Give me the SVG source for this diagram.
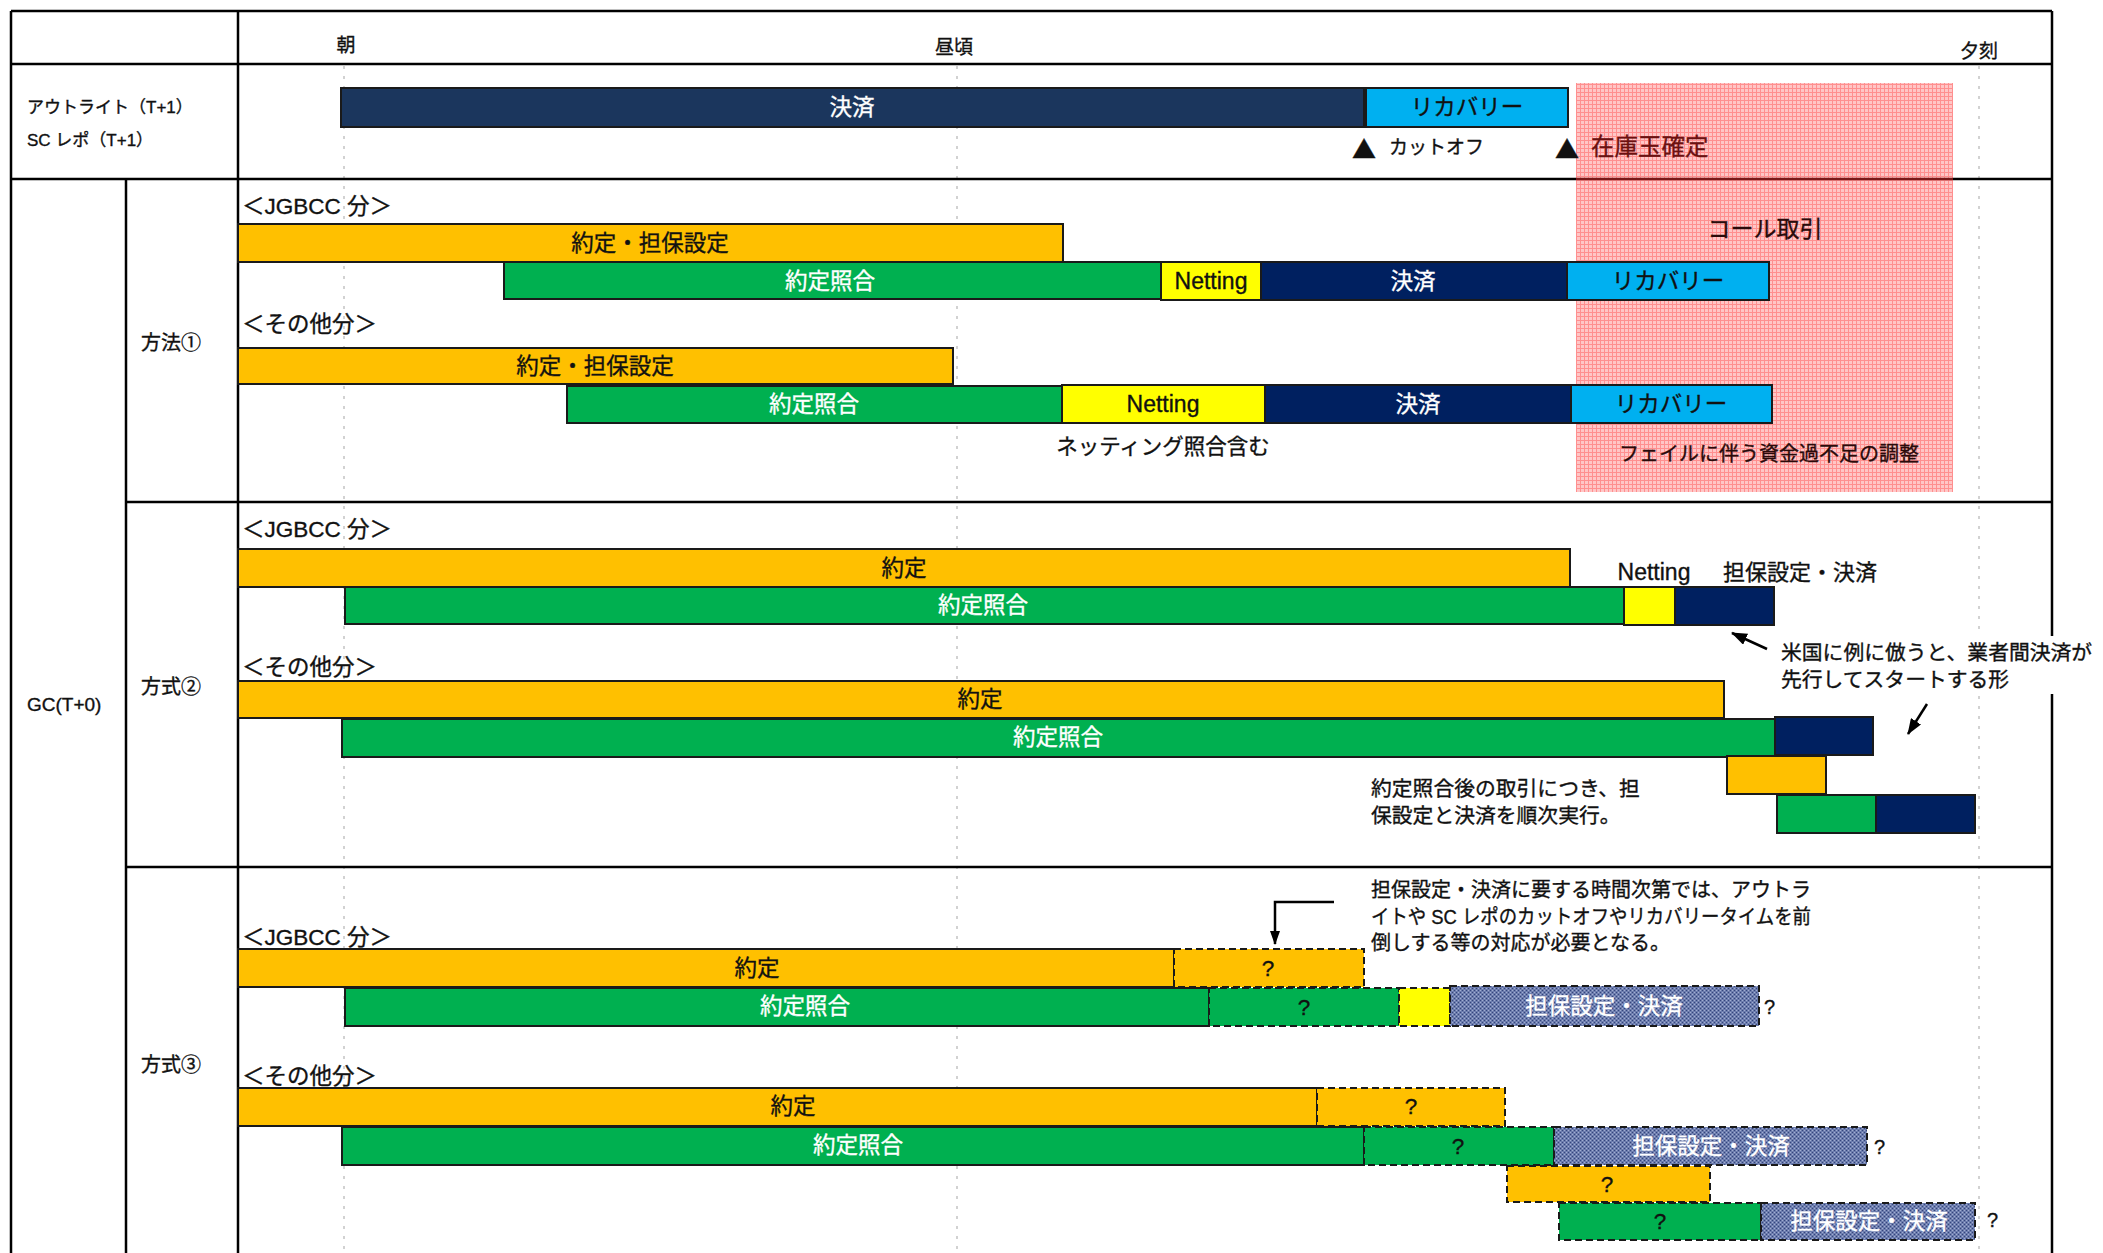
<svg xmlns="http://www.w3.org/2000/svg" width="2103" height="1253" viewBox="0 0 2103 1253">
<style>
text { font-family: "Liberation Sans", "Noto Sans CJK JP", sans-serif; fill: #111; stroke: #111; stroke-width: 0.35; }
.tl { stroke: #000; stroke-width: 2.5; fill: none; }
.grid { stroke: #c4c4c4; stroke-width: 1.5; stroke-dasharray: 3 7; fill: none; }
.bar { stroke: #1a1a1a; stroke-width: 2; }
.dsh { stroke-dasharray: 7 4; }
.or { fill: #FFC000; }
.gr { fill: #00B050; }
.ye { fill: #FFFF00; }
.nv { fill: #002060; }
.nv1 { fill: #1B365D; }
.cy { fill: #00B0F0; }
.hb { fill: url(#blueHatch); }
.bl { font-size: 22.5px; text-anchor: middle; dominant-baseline: central; }
text.w { fill: #fff; stroke: #fff; }
.lbl { font-size: 22.5px; dominant-baseline: central; }
.ml { font-size: 19px; dominant-baseline: central; }
.ann { font-size: 20.8px; dominant-baseline: central; }
.arr { stroke: #000; stroke-width: 2.5; fill: none; }
.tri { font-family: "Noto Sans CJK JP", sans-serif; font-size: 24px; text-anchor: middle; dominant-baseline: central; }
.pk { fill: #2a0a0a; stroke: #2a0a0a; }
</style>
<defs>
<pattern id="pinkHatch" patternUnits="userSpaceOnUse" width="4" height="4">
<rect width="4" height="4" fill="#FFC6C6"/>
<rect width="4" height="1" fill="#FF8F8F"/>
<rect width="1" height="4" fill="#FF8F8F"/>
</pattern>
<pattern id="blueHatch" patternUnits="userSpaceOnUse" width="4" height="4">
<rect width="4" height="4" fill="#6C7CAD"/>
<rect x="0" y="0" width="1" height="1" fill="#34457C"/>
<rect x="2" y="2" width="1" height="1" fill="#34457C"/>
<rect x="2" y="0" width="1" height="1" fill="#A2AED2"/>
<rect x="0" y="2" width="1" height="1" fill="#A2AED2"/>
</pattern>
<marker id="ah" viewBox="0 0 16 12" refX="15" refY="6" markerWidth="16" markerHeight="12" markerUnits="userSpaceOnUse" orient="auto">
<path d="M0,0 L16,6 L0,12 z" fill="#000"/>
</marker>
<marker id="ah2" viewBox="0 0 14 10" refX="13" refY="5" markerWidth="14" markerHeight="10" markerUnits="userSpaceOnUse" orient="auto">
<path d="M0,0 L14,5 L0,10 z" fill="#000"/>
</marker>
</defs>
<rect width="2103" height="1253" fill="#fff"/>

<g id="grid">
<line class="grid" x1="344" y1="66" x2="344" y2="1253"/>
<line class="grid" x1="957" y1="66" x2="957" y2="1253"/>
<line class="grid" x1="1979" y1="66" x2="1979" y2="1253"/>
</g>

<g id="table">
<line class="tl" x1="11" y1="11" x2="2052" y2="11"/>
<line class="tl" x1="11" y1="11" x2="11" y2="1253"/>
<line class="tl" x1="2052" y1="11" x2="2052" y2="1253"/>
<line class="tl" x1="11" y1="64" x2="2052" y2="64"/>
<line class="tl" x1="11" y1="179" x2="2052" y2="179"/>
<line class="tl" x1="238" y1="11" x2="238" y2="1253"/>
<line class="tl" x1="126" y1="179" x2="126" y2="1253"/>
<line class="tl" x1="126" y1="502" x2="2052" y2="502"/>
<line class="tl" x1="126" y1="867" x2="2052" y2="867"/>
</g>

<g id="header">
<text class="ml" x="346" y="45" text-anchor="middle">朝</text>
<text class="ml" x="954" y="47" text-anchor="middle">昼頃</text>
<text class="ml" x="1979" y="51" text-anchor="middle">夕刻</text>
</g>

<g id="row-labels">
<text x="27" y="107" font-size="17" dominant-baseline="central">アウトライト（T+1）</text>
<text x="27" y="140" font-size="17" dominant-baseline="central">SC レポ（T+1）</text>
<text x="27" y="704" font-size="19" dominant-baseline="central">GC(T+0)</text>
<text x="141" y="343" font-size="20" dominant-baseline="central">方法①</text>
<text x="141" y="687" font-size="20" dominant-baseline="central">方式②</text>
<text x="141" y="1065" font-size="20" dominant-baseline="central">方式③</text>
</g>

<g id="pink-zone">
<rect x="1576" y="83" width="377" height="409" fill="url(#pinkHatch)"/>
<line x1="1576" y1="179" x2="1953" y2="179" stroke="#7a1a1a" stroke-width="2.5"/>
<text x="1591" y="147" font-size="23.5" dominant-baseline="central" style="fill:#6b1111;stroke:#6b1111">在庫玉確定</text>
<text class="pk" x="1765" y="229" font-size="23" text-anchor="middle" dominant-baseline="central">コール取引</text>
<text class="pk" x="1769" y="454" font-size="20" text-anchor="middle" dominant-baseline="central">フェイルに伴う資金過不足の調整</text>
</g>

<g id="outright">
<rect class="bar nv1" x="341" y="88" width="1023" height="39"/>
<text class="bl w" x="852" y="107">決済</text>
<rect class="bar cy" x="1366" y="88" width="202" height="39"/>
<text class="bl" x="1467" y="107">リカバリー</text>
<text class="tri" x="1364" y="147">▲</text>
<text class="ml" x="1389" y="147">カットオフ</text>
<text class="tri" x="1567" y="147">▲</text>
</g>

<g id="method1">
<text class="lbl" x="242" y="206">＜JGBCC 分＞</text>
<rect class="bar or" x="238" y="224" width="825" height="38"/>
<text class="bl" x="650" y="243">約定・担保設定</text>
<rect class="bar gr" x="504" y="262" width="657" height="37"/>
<text class="bl w" x="830" y="281">約定照合</text>
<rect class="bar ye" x="1161" y="262" width="100" height="38"/>
<text class="bl" x="1211" y="281" style="font-size:23px">Netting</text>
<rect class="bar nv" x="1261" y="262" width="306" height="38"/>
<text class="bl w" x="1413" y="281">決済</text>
<rect class="bar cy" x="1567" y="262" width="202" height="38"/>
<text class="bl" x="1668" y="281">リカバリー</text>

<text class="lbl" x="242" y="324">＜その他分＞</text>
<rect class="bar or" x="238" y="348" width="715" height="36"/>
<text class="bl" x="595" y="366">約定・担保設定</text>
<rect class="bar gr" x="567" y="386" width="495" height="37"/>
<text class="bl w" x="814" y="404">約定照合</text>
<rect class="bar ye" x="1062" y="385" width="203" height="38"/>
<text class="bl" x="1163" y="404" style="font-size:23px">Netting</text>
<rect class="bar nv" x="1265" y="385" width="306" height="38"/>
<text class="bl w" x="1418" y="404">決済</text>
<rect class="bar cy" x="1571" y="385" width="201" height="38"/>
<text class="bl" x="1671" y="404">リカバリー</text>
<text class="ann" x="1163" y="447" text-anchor="middle" style="font-size:21.5px">ネッティング照合含む</text>
</g>

<g id="method2">
<text class="lbl" x="242" y="529">＜JGBCC 分＞</text>
<rect class="bar or" x="238" y="549" width="1332" height="38"/>
<text class="bl" x="904" y="568">約定</text>
<rect class="bar gr" x="345" y="587" width="1279" height="37"/>
<text class="bl w" x="983" y="605">約定照合</text>
<rect class="bar ye" x="1624" y="587" width="51" height="38"/>
<rect class="bar nv" x="1675" y="587" width="99" height="38"/>
<text x="1654" y="572" font-size="23" text-anchor="middle" dominant-baseline="central">Netting</text>
<text x="1723" y="572" font-size="22" dominant-baseline="central">担保設定・決済</text>

<text class="lbl" x="242" y="667">＜その他分＞</text>
<rect class="bar or" x="238" y="681" width="1486" height="37"/>
<text class="bl" x="980" y="699">約定</text>
<rect class="bar gr" x="342" y="719" width="1433" height="38"/>
<text class="bl w" x="1058" y="737">約定照合</text>
<rect class="bar nv" x="1775" y="717" width="98" height="38"/>
<rect class="bar or" x="1727" y="756" width="99" height="38"/>
<rect class="bar gr" x="1777" y="795" width="99" height="38"/>
<rect class="bar nv" x="1876" y="795" width="99" height="38"/>

<rect x="1776" y="636" width="327" height="58" fill="#fff"/>
<text class="ann" x="1781" y="652">米国に例に倣うと、業者間決済が</text>
<text class="ann" x="1781" y="679">先行してスタートする形</text>
<text class="ann" x="1371" y="788">約定照合後の取引につき、担</text>
<text class="ann" x="1371" y="815">保設定と決済を順次実行。</text>
</g>

<g id="method3">
<text class="ann" x="1371" y="890" style="font-size:20px">担保設定・決済に要する時間次第では、アウトラ</text>
<text class="ann" x="1371" y="917" style="font-size:20px" textLength="440" lengthAdjust="spacingAndGlyphs">イトや SC レポのカットオフやリカバリータイムを前</text>
<text class="ann" x="1371" y="943" style="font-size:20px">倒しする等の対応が必要となる。</text>

<text class="lbl" x="242" y="937">＜JGBCC 分＞</text>
<rect class="bar or" x="238" y="949" width="936" height="38"/>
<text class="bl" x="757" y="968">約定</text>
<rect class="bar or dsh" x="1174" y="949" width="190" height="38"/>
<text class="bl" x="1268" y="968">?</text>
<rect class="bar gr" x="345" y="988" width="864" height="38"/>
<text class="bl w" x="805" y="1006">約定照合</text>
<rect class="bar gr dsh" x="1209" y="988" width="190" height="38"/>
<text class="bl" x="1304" y="1007">?</text>
<rect class="bar ye dsh" x="1399" y="988" width="51" height="38"/>
<rect class="bar hb dsh" x="1450" y="986" width="309" height="40"/>
<text class="bl w" x="1604" y="1006">担保設定・決済</text>
<text x="1764" y="1007" font-size="20" dominant-baseline="central">?</text>

<text class="lbl" x="242" y="1076">＜その他分＞</text>
<rect class="bar or" x="238" y="1088" width="1079" height="38"/>
<text class="bl" x="793" y="1106">約定</text>
<rect class="bar or dsh" x="1317" y="1088" width="188" height="38"/>
<text class="bl" x="1411" y="1106">?</text>
<rect class="bar gr" x="342" y="1127" width="1022" height="38"/>
<text class="bl w" x="858" y="1145">約定照合</text>
<rect class="bar gr dsh" x="1364" y="1127" width="190" height="38"/>
<text class="bl" x="1458" y="1146">?</text>
<rect class="bar hb dsh" x="1554" y="1127" width="313" height="38"/>
<text class="bl w" x="1711" y="1146">担保設定・決済</text>
<text x="1874" y="1147" font-size="20" dominant-baseline="central">?</text>
<rect class="bar or dsh" x="1507" y="1166" width="203" height="36"/>
<text class="bl" x="1607" y="1184">?</text>
<rect class="bar gr dsh" x="1559" y="1203" width="202" height="37"/>
<text class="bl" x="1660" y="1221">?</text>
<rect class="bar hb dsh" x="1761" y="1203" width="214" height="37"/>
<text class="bl w" x="1869" y="1221">担保設定・決済</text>
<text x="1987" y="1220" font-size="20" dominant-baseline="central">?</text>
</g>

<g id="connectors">
<line class="arr" x1="1767" y1="649" x2="1732" y2="633" marker-end="url(#ah)"/>
<line class="arr" x1="1927" y1="704" x2="1908" y2="734" marker-end="url(#ah)"/>
<polyline class="arr" points="1334,902 1275,902 1275,944" marker-end="url(#ah2)"/>
</g>
</svg>
